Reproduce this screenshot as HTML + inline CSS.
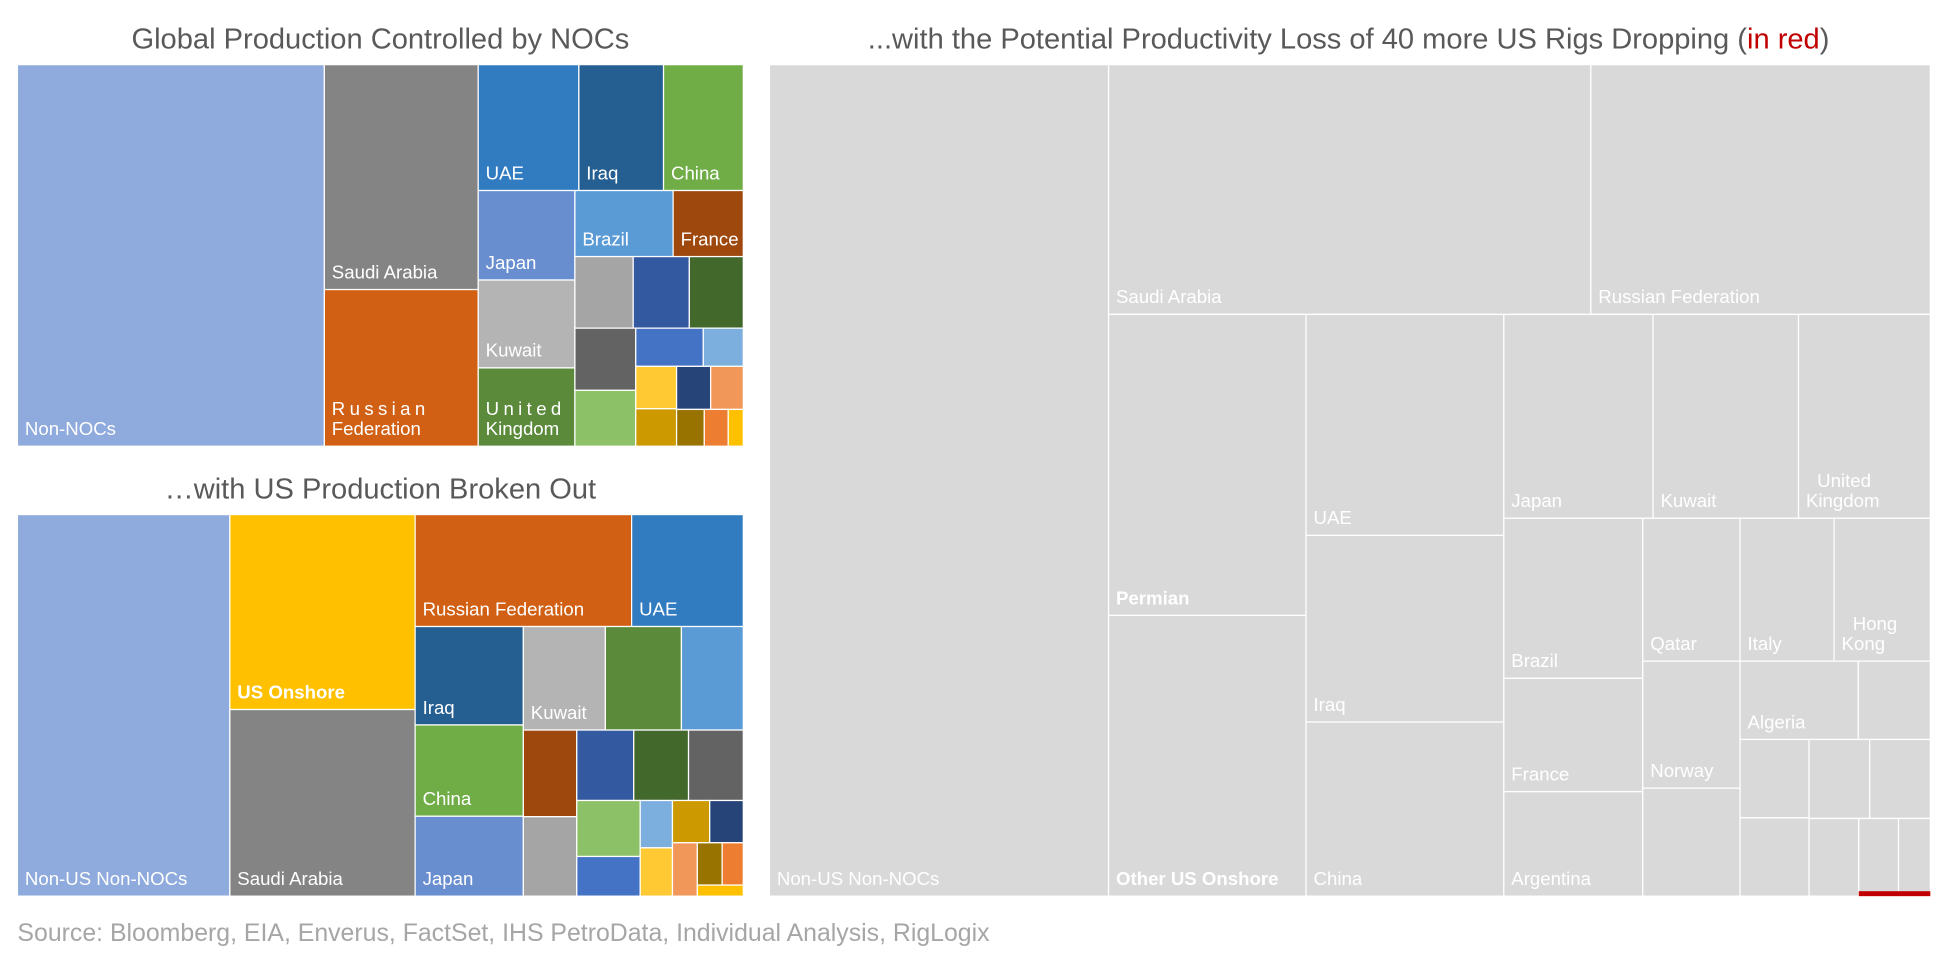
<!DOCTYPE html>
<html><head><meta charset="utf-8">
<style>
html,body{margin:0;padding:0;background:#fff;}
svg{display:block;font-family:"Liberation Sans",sans-serif;}
</style></head>
<body>
<svg id="root" width="1949" height="967" viewBox="0 0 1568 778" xmlns="http://www.w3.org/2000/svg">
  <text x="306" y="39" text-anchor="middle" font-size="23.4" fill="#595959">Global Production Controlled by NOCs</text>
  <text x="306" y="401" text-anchor="middle" font-size="23.4" fill="#595959">…with US Production Broken Out</text>
  <text x="1085" y="39" text-anchor="middle" font-size="23.4" fill="#595959">...with the Potential Productivity Loss of 40 more US Rigs Dropping (<tspan fill="#c00000">in red</tspan>)</text>
  <text x="14" y="757" font-size="20" fill="#a6a6a6">Source: Bloomberg, EIA, Enverus, FactSet, IHS PetroData, Individual Analysis, RigLogix</text>
  <g id="c1"></g>
  <g id="c2"></g>
  <g id="c3"></g>
</svg>
<script>
// ---- Chart 1 data ----
const c1Labels = ["Non-NOCs","Saudi Arabia","Russian\nFederation","UAE","Iraq","China","Japan","Kuwait","United\nKingdom","Brazil","France","","","","","","","","","","","","","",""];
const c1Values = [758,224,156,82,69,65,56,55,49,42,30,27,26,25,24.5,22,16.7,9.9,11.2,9.9,9.5,9.1,6.6,5.7,3.6];
const c1Colors = ["#8faadc","#848484","#d16014","#317bc0","#255e91","#70ad47","#698ed0","#b4b4b4","#5b8a3b","#5b9bd5","#9e480e","#a5a5a5","#335aa1","#43682b","#636363","#8cc168","#4472c4","#7cafdd","#ffc934","#cc9a00","#264478","#f1975a","#997300","#ed7d31","#ffc000"];
const c1Tree = {d:'h',c:[0,{d:'v',c:[1,2]},{d:'v',c:[{d:'h',c:[3,4,5]},{d:'h',c:[{d:'v',c:[6,7,8]},{d:'v',c:[{d:'h',c:[9,10]},{d:'h',c:[11,12,13]},{d:'h',c:[{d:'v',c:[14,15]},{d:'v',c:[{d:'h',c:[16,17]},{d:'h',c:[{d:'v',c:[18,19]},{d:'v',c:[{d:'h',c:[20,21]},{d:'h',c:[22,23,24]}]}]}]}]}]}]}]}]};

// ---- Chart 2 data ----
const c2Labels = ["Non-US Non-NOCs","US Onshore","Saudi Arabia","Russian Federation","UAE","Iraq","China","Japan","Kuwait","","","","","","","","","","","","","","","","",""];
const c2Values = [525,234,224,157,81,69,64,56,55,51,41.5,30,27.5,26,25,25,23,16.3,9.9,10.1,10.2,9.2,8.6,6.8,5.8,3.3];
const c2Colors = ["#8faadc","#ffc000","#848484","#d16014","#317bc0","#255e91","#70ad47","#698ed0","#b4b4b4","#5b8a3b","#5b9bd5","#9e480e","#a5a5a5","#335aa1","#43682b","#636363","#8cc168","#4472c4","#7cafdd","#ffc934","#cc9a00","#264478","#f1975a","#997300","#ed7d31","#ffc000"];
const c2Bold = [1];
const c2Tree = {d:'h',c:[0,{d:'v',c:[1,2]},{d:'v',c:[{d:'h',c:[3,4]},{d:'h',c:[{d:'v',c:[5,6,7]},{d:'v',c:[{d:'h',c:[8,9,10]},{d:'h',c:[{d:'v',c:[11,12]},{d:'v',c:[{d:'h',c:[13,14,15]},{d:'h',c:[{d:'v',c:[16,17]},{d:'v',c:[18,19]},{d:'v',c:[{d:'h',c:[20,21]},{d:'h',c:[22,{d:'v',c:[{d:'h',c:[23,24]},25]}]}]}]}]}]}]}]}]}]};

// ---- Chart 3 data ----
const c3Labels = ["Non-US Non-NOCs","Saudi Arabia","Russian Federation","Permian","Other US Onshore","UAE","Iraq","China","Japan","Kuwait","United\nKingdom","Brazil","France","Argentina","Qatar","Norway","","Italy","Hong\nKong","Algeria","","","","","","","",""];
const c3Values = [1826,780,549,385,359,283,239,223,197,192,174,144,102,94,90,80,68,87,89,60,36.5,35,35,31,31,25,20,16];
const c3Bold = [3,4];
const c3Loss = [2.3];
const c3Tree = {d:'h',c:[0,{d:'v',c:[{d:'h',c:[1,2]},{d:'h',c:[{d:'v',c:[3,4]},{d:'v',c:[5,6,7]},{d:'v',c:[{d:'h',c:[8,9,10]},{d:'h',c:[{d:'v',c:[11,12,13]},{d:'v',c:[14,15,16]},{d:'v',c:[{d:'h',c:[17,18]},{d:'h',c:[19,20]},{d:'h',c:[{d:'v',c:[21,22]},{d:'v',c:[{d:'h',c:[23,24]},{d:'h',c:[25,26,27]}]}]}]}]}]}]}]}]};

const NS = "http://www.w3.org/2000/svg";
function sum(n, vals){ return typeof n === 'number' ? vals[n] : n.c.reduce((a,k)=>a+sum(k,vals),0); }
function layout(n, vals, x, y, w, h, out){
  if (typeof n === 'number'){ out[n] = {x,y,w,h}; return; }
  const tot = sum(n, vals); let off = 0;
  n.c.forEach(k=>{
    const f = sum(k, vals)/tot;
    if (n.d==='h'){ layout(k, vals, x+off*w, y, f*w, h, out); }
    else { layout(k, vals, x, y+off*h, w, f*h, out); }
    off += f;
  });
}
function draw(gid, tree, vals, labels, colors, bold, box, prefix, mode){
  const g = document.getElementById(gid);
  const rects = [];
  layout(tree, vals, box.x, box.y, box.w, box.h, rects);
  rects.forEach((r,i)=>{
    const el = document.createElementNS(NS,'rect');
    el.setAttribute('x', r.x); el.setAttribute('y', r.y);
    el.setAttribute('width', r.w); el.setAttribute('height', r.h);
    el.setAttribute('fill', colors ? colors[i] : '#d9d9d9');
    el.setAttribute('stroke', '#ffffff'); el.setAttribute('stroke-width', '1');
    
    
    g.appendChild(el);
    if (labels[i]){
      const lines = labels[i].split('\n');
      lines.forEach((ln,j)=>{
        const t = document.createElementNS(NS,'text');
        t.setAttribute('x', r.x + 6);
        t.setAttribute('y', r.y + r.h - 9 - (lines.length-1-j)*16);
        t.setAttribute('font-size', '15');
        t.setAttribute('fill', '#ffffff');
        if (bold && bold.includes(i)) t.setAttribute('font-weight','bold');
        if (lines.length>1 && j===0){
          if (mode==='center') t.setAttribute('dx', '9');
          if (mode==='spaced') t.setAttribute('letter-spacing', '3.5');
        }
        t.textContent = ln;
        
        
        g.appendChild(t);
      });
    }
  });
  return rects;
}
draw('c1', c1Tree, c1Values, c1Labels, c1Colors, [], {x:14,y:52,w:584,h:307}, 'chart1', 'spaced');
draw('c2', c2Tree, c2Values, c2Labels, c2Colors, c2Bold, {x:14,y:414,w:584,h:307}, 'chart2', '');
const r3 = draw('c3', c3Tree, c3Values, c3Labels, null, c3Bold, {x:619,y:52,w:934,h:669}, 'chart3', 'center');
// red loss strip across the last two small cells
const a = r3[26], b = r3[27];
const lw = (b.x + b.w) - a.x;
const lh = c3Loss[0] * 100 / lw;
const red = document.createElementNS(NS,'rect');
red.setAttribute('x', a.x); red.setAttribute('y', a.y + a.h - lh);
red.setAttribute('width', lw); red.setAttribute('height', lh);
red.setAttribute('fill', '#c00000');


document.getElementById('c3').appendChild(red);
</script>
</body></html>
